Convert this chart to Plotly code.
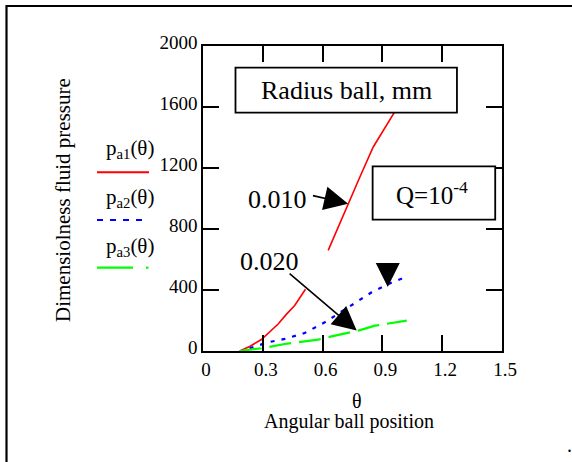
import plotly.graph_objects as go

# ---- data ----
theta_a1 = [0.184, 0.234, 0.293, 0.318, 0.377, 0.418, 0.46, 0.514, None,
            0.628, 0.678, 0.728, 0.787, 0.854, 0.904, 0.955, 1.0]
p_a1 = [0, 30, 75, 105, 177, 240, 298, 405, None,
        660, 813, 966, 1141, 1338, 1447, 1557, 1650]

theta_a2 = [0.234, 0.326, 0.41, 0.51, 0.611, 0.745, 0.846, 0.947, 1.014]
p_a2 = [18, 57, 79, 118, 188, 302, 385, 450, 483]

theta_a3 = [0.184, 0.293, 0.41, 0.578, 0.645, 0.779, 0.863, 1.022]
p_a3 = [0, 18, 46, 75, 96, 134, 166, 199]

x_ticks = [0, 0.3, 0.6, 0.9, 1.2, 1.5]
x_ticklabels = ["0", "0.3", "0.6", "0.9", "1.2", "1.5"]
y_ticks = [0, 400, 800, 1200, 1600, 2000]
y_ticklabels = ["0", "400", "800", "1200", "1600", "2000"]

FONT = "Liberation Serif, Times New Roman, serif"

W, H = 572, 462
ML, MR, MT, MB = 203, 70, 46, 111
PW, PH = W - ML - MR, H - MT - MB


def px(x):
    return (x - ML) / PW


def py(y):
    return (H - MB - y) / PH


fig = go.Figure()
fig.add_trace(go.Scatter(x=theta_a1, y=p_a1, mode="lines", connectgaps=False,
                         line=dict(color="#ff0000", width=1.6), showlegend=False))
fig.add_trace(go.Scatter(x=theta_a2, y=p_a2, mode="lines",
                         line=dict(color="#0000ff", width=2.2, dash="4px,7px"), showlegend=False))
fig.add_trace(go.Scatter(x=theta_a3, y=p_a3, mode="lines",
                         line=dict(color="#00ff00", width=2.2, dash="22px,8px"), showlegend=False))

shapes = []
# outer frame (top + left)
shapes.append(dict(type="line", xref="paper", yref="paper", x0=px(6.5), x1=px(575),
                   y0=py(6), y1=py(6), line=dict(color="black", width=2.2)))
shapes.append(dict(type="line", xref="paper", yref="paper", x0=px(6.5), x1=px(6.5),
                   y0=py(5), y1=py(470), line=dict(color="black", width=2.2)))
# boxes
shapes.append(dict(type="rect", xref="x", yref="y", x0=0.163, x1=1.274, y0=1563, y1=1858,
                   fillcolor="white", line=dict(color="black", width=1.8), layer="above"))
shapes.append(dict(type="rect", xref="x", yref="y", x0=0.851, x1=1.466, y0=862, y1=1211,
                   fillcolor="white", line=dict(color="black", width=1.8), layer="above"))
# legend samples
shapes.append(dict(type="line", xref="paper", yref="paper", x0=px(97), x1=px(149),
                   y0=py(172.3), y1=py(172.3), line=dict(color="#ff0000", width=2)))
shapes.append(dict(type="line", xref="paper", yref="paper", x0=px(97), x1=px(149),
                   y0=py(220), y1=py(220), line=dict(color="#0000ff", width=2.2, dash="6px,7px")))
shapes.append(dict(type="line", xref="paper", yref="paper", x0=px(97), x1=px(133),
                   y0=py(267.7), y1=py(267.7), line=dict(color="#00ff00", width=2.2)))
shapes.append(dict(type="line", xref="paper", yref="paper", x0=px(146), x1=px(148.5),
                   y0=py(267.7), y1=py(267.7), line=dict(color="#00ff00", width=2.2)))

ann = []
ann.append(dict(x=0.718, y=1711, xref="x", yref="y", text="Radius ball, mm", showarrow=False,
                xanchor="center", yanchor="middle",
                font=dict(family=FONT, size=26, color="black")))
ann.append(dict(x=1.15, y=1037, xref="x", yref="y", text="Q=10<sup>-4</sup>", showarrow=False,
                xanchor="center", yanchor="middle",
                font=dict(family=FONT, size=25, color="black")))
ann.append(dict(x=0.372, y=993, xref="x", yref="y", text="0.010", showarrow=False,
                xanchor="center", yanchor="middle",
                font=dict(family=FONT, size=26, color="black")))
ann.append(dict(x=0.335, y=590, xref="x", yref="y", text="0.020", showarrow=False,
                xanchor="center", yanchor="middle",
                font=dict(family=FONT, size=26, color="black")))
# arrows
for (tx, ty, hx, hy) in [(0.544, 1021, 0.728, 966), (0.427, 516, 0.771, 134), (0.927, 562, 0.927, 420)]:
    ann.append(dict(x=hx, y=hy, ax=tx, ay=ty, xref="x", yref="y", axref="x", ayref="y",
                    text="", showarrow=True, arrowhead=2, arrowsize=3, arrowwidth=1.6,
                    arrowcolor="black", standoff=0, startstandoff=0))
# legend labels
for lab, yy in [("a1", 148.5), ("a2", 198.3), ("a3", 246.7)]:
    ann.append(dict(x=px(130), y=py(yy), xref="paper", yref="paper",
                    xanchor="center", yanchor="middle",
                    text="p<sub>%s</sub>(θ)" % lab, showarrow=False,
                    font=dict(family=FONT, size=21, color="black")))
# axis titles
ann.append(dict(x=px(63), y=py(200), xref="paper", yref="paper", text="Dimensiolness fluid pressure",
                xanchor="center", yanchor="middle",
                textangle=-90, showarrow=False, font=dict(family=FONT, size=21, color="black")))
ann.append(dict(x=px(356.7), y=py(401), xref="paper", yref="paper", text="θ",
                xanchor="center", yanchor="middle",
                showarrow=False, font=dict(family=FONT, size=20, color="black")))
ann.append(dict(x=px(349.2), y=py(421), xref="paper", yref="paper", text="Angular ball position",
                xanchor="center", yanchor="middle",
                showarrow=False, font=dict(family=FONT, size=20, color="black")))
ann.append(dict(x=px(569.5), y=py(445), xref="paper", yref="paper", text=".",
                xanchor="center", yanchor="middle",
                showarrow=False, font=dict(family=FONT, size=20, color="black")))

axis_common = dict(showline=True, linecolor="black", linewidth=1.6, mirror="ticks",
                   ticks="inside", ticklen=16, tickwidth=1.6, tickcolor="black",
                   showgrid=False, zeroline=False,
                   tickfont=dict(family=FONT, size=19, color="black"))

fig.update_layout(
    width=W, height=H,
    margin=dict(l=ML, r=MR, t=MT, b=MB, pad=0),
    paper_bgcolor="white", plot_bgcolor="white",
    xaxis=dict(range=[0, 1.5], tickvals=x_ticks, ticktext=x_ticklabels, ticklabelshift=3,
               **axis_common),
    yaxis=dict(range=[0, 2000], tickvals=y_ticks, ticktext=y_ticklabels, ticklabelshift=-4,
               **axis_common),
    shapes=shapes, annotations=ann,
)

fig.write_html("out.html", config={"displayModeBar": False},
               post_script="document.body.style.margin='0';")
